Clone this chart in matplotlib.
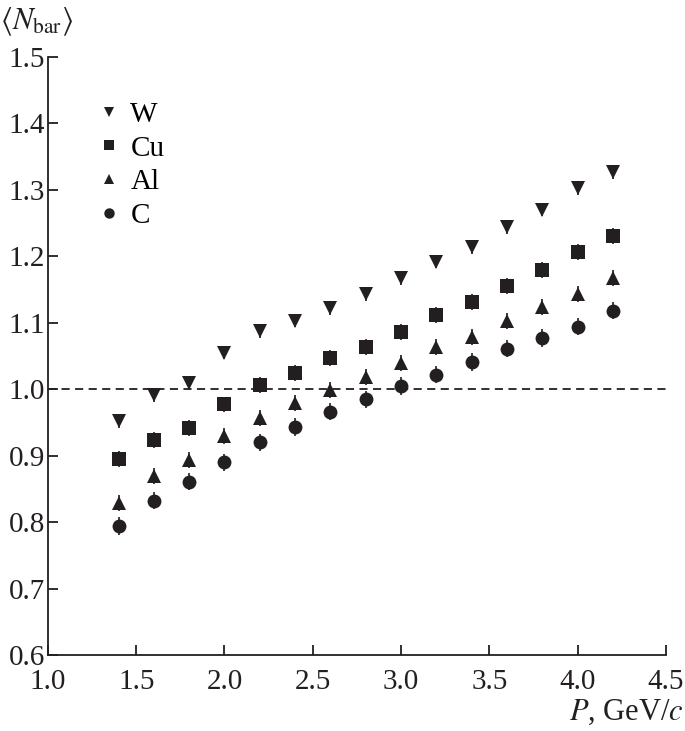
import matplotlib
matplotlib.use("Agg")
import matplotlib.pyplot as plt
from matplotlib.lines import Line2D

plt.rcParams['font.family'] = ['Liberation Serif', 'DejaVu Serif']
plt.rcParams['mathtext.fontset'] = 'stix'

# momentum points, GeV/c
P = [1.4, 1.6, 1.8, 2.0, 2.2, 2.4, 2.6, 2.8, 3.0, 3.2, 3.4, 3.6, 3.8, 4.0, 4.2]

# <N_bar> for each target
N_W = [0.952, 0.991, 1.010, 1.055, 1.087, 1.103, 1.122, 1.143, 1.167, 1.192, 1.214, 1.244, 1.270, 1.303, 1.327]
N_Cu = [0.895, 0.924, 0.942, 0.977, 1.006, 1.025, 1.047, 1.064, 1.086, 1.112, 1.131, 1.156, 1.179, 1.206, 1.230]
N_Al = [0.829, 0.870, 0.893, 0.929, 0.956, 0.979, 0.999, 1.018, 1.040, 1.063, 1.078, 1.102, 1.124, 1.144, 1.167]
N_C = [0.794, 0.832, 0.861, 0.890, 0.920, 0.943, 0.966, 0.985, 1.005, 1.022, 1.041, 1.061, 1.077, 1.094, 1.118]

# statistical errors (roughly the same for all points)
err_W = [0.010] * len(P)
err_Cu = [0.012] * len(P)
err_Al = [0.012] * len(P)
err_C = [0.013] * len(P)

series = [
    ("W", N_W, err_W, "v", 10),
    ("Cu", N_Cu, err_Cu, "s", 9.5),
    ("Al", N_Al, err_Al, "^", 10),
    ("C", N_C, err_C, "o", 10),
]

ink = "#231f20"

fig = plt.figure(figsize=(6.85, 7.31), dpi=100)
ax = fig.add_axes([0.070, 0.104, 0.902, 0.818])

for name, vals, errs, mk, ms in series:
    ax.errorbar(P, vals, yerr=errs, fmt=mk, color=ink, markersize=ms,
                elinewidth=1.2, capsize=0, markeredgewidth=0)

ax.axhline(1.0, color=ink, linestyle=(0, (4.5, 3)), linewidth=1.3)

ax.set_xlim(1.0, 4.5)
ax.set_ylim(0.6, 1.5)
ax.set_xticks([1.0, 1.5, 2.0, 2.5, 3.0, 3.5, 4.0, 4.5])
ax.set_yticks([0.6, 0.7, 0.8, 0.9, 1.0, 1.1, 1.2, 1.3, 1.4, 1.5])
ax.xaxis.set_major_formatter(matplotlib.ticker.FormatStrFormatter('%.1f'))
ax.yaxis.set_major_formatter(matplotlib.ticker.FormatStrFormatter('%.1f'))

ax.spines['top'].set_visible(False)
ax.spines['right'].set_visible(False)
for s in ['left', 'bottom']:
    ax.spines[s].set_linewidth(1.3)
    ax.spines[s].set_color(ink)
ax.tick_params(direction='in', length=7, width=1.3, labelsize=21,
               colors=ink)
ax.tick_params(axis='x', pad=10)
ax.tick_params(axis='y', pad=2)

# legend with small markers, no frame
handles = [Line2D([], [], marker=mk, linestyle='none', color=ink,
                  markersize=7.5, markeredgewidth=0) for _, _, _, mk, _ in series]
ax.legend(handles, [s[0] for s in series], loc='upper left',
          bbox_to_anchor=(0.065, 0.945), frameon=False, fontsize=21,
          handlelength=0.6, handletextpad=0.45, labelspacing=0.25,
          borderaxespad=0)

fig.text(0.0, 0.970, r'$\langle N_{\rm bar}\rangle$', fontsize=22,
         ha='left', va='center', color=ink)
fig.text(0.999, 0.026, r'$P$, GeV/$c$', fontsize=22,
         ha='right', va='center', color=ink)

fig.savefig("out.png", dpi=100)
